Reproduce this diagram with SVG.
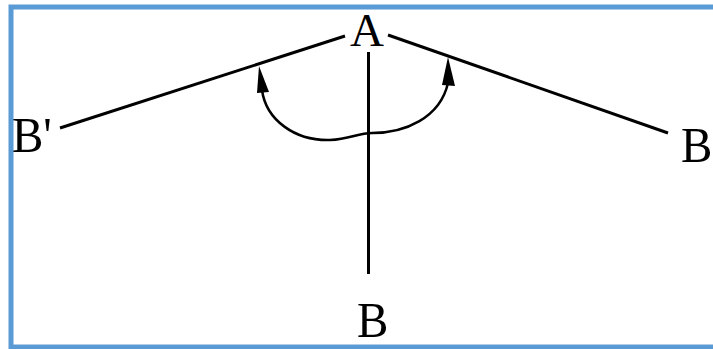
<svg xmlns="http://www.w3.org/2000/svg" width="713" height="349" viewBox="0 0 713 349">
  <style>
    .frame { fill: #ffffff; stroke: #5b9bd5; stroke-width: 5; }
    .line { fill: none; stroke: #000000; stroke-width: 3; stroke-linecap: butt; }
    .arc { fill: none; stroke: #000000; stroke-width: 2.5; }
    .head { fill: #000000; stroke: none; }
    .lbl { font-family: "Liberation Serif", "Times New Roman", serif; font-size: 47px; fill: #000000; }
  </style>
  <rect class="frame" x="11" y="7" width="712" height="340"/>
  <g id="connectors">
    <line class="line" x1="60" y1="128" x2="345" y2="36"/>
    <line class="line" x1="388" y1="35" x2="668" y2="133"/>
    <line class="line" x1="368.5" y1="52" x2="368.5" y2="274"/>
    <path class="arc" d="M 262,90 C 266,120 295,141 330,140 C 350,139 358,133 372,133 C 405,133 440,118 448,83"/>
    <polygon class="head" points="259,66 269,92 257,93"/>
    <polygon class="head" points="448,57 455,86 442,85"/>
  </g>
  <g id="node-A"><text class="lbl" x="367" y="46" text-anchor="middle">A</text></g>
  <g id="node-B-prime"><text class="lbl" transform="translate(12,152) scale(1,1.1)">B'</text></g>
  <g id="node-B-right"><text class="lbl" transform="translate(681,162) scale(1,1.1)">B</text></g>
  <g id="node-B"><text class="lbl" transform="translate(357,337) scale(1,1.1)">B</text></g>
</svg>
